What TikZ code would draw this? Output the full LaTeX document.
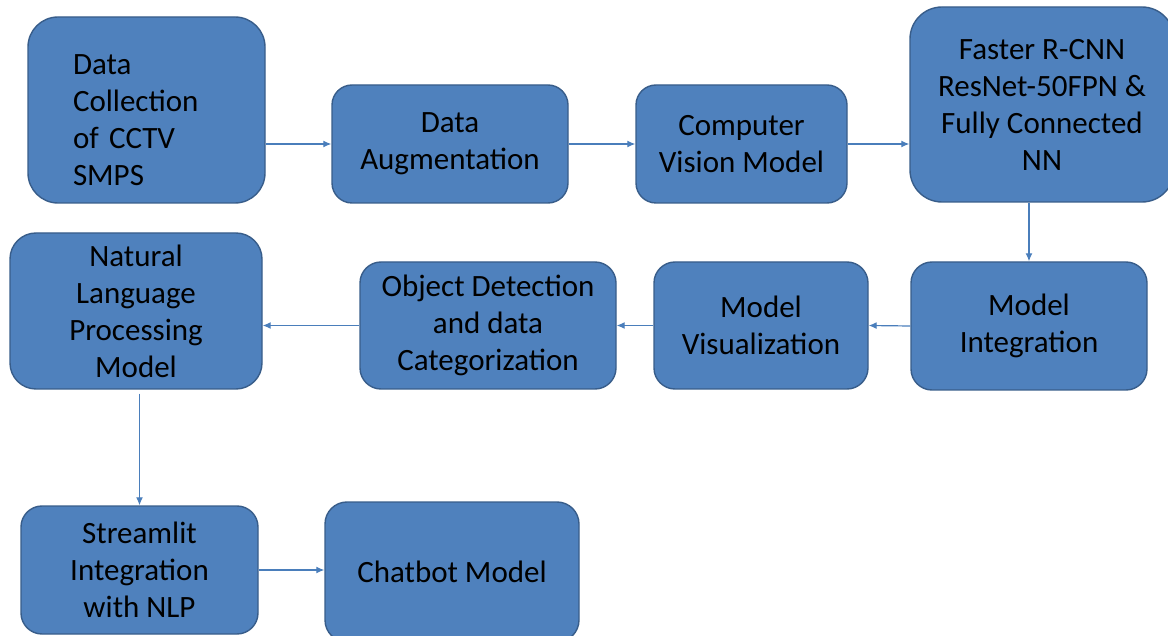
\documentclass[tikz,border=0pt]{standalone}
\usepackage{fontspec}
\setmainfont{Carlito}
\usetikzlibrary{arrows.meta}
\definecolor{boxfill}{HTML}{4F81BD}
\definecolor{boxline}{HTML}{385D8A}
\definecolor{arrowc}{HTML}{4A7EBB}
\tikzset{
  stepbox/.style={draw=boxline, line width=1.4pt, fill=boxfill, rectangle,
    align=center, inner sep=0pt, text=black,
    font=\fontsize{31}{37}\selectfont},
  flow/.style={draw=arrowc, line width=1.2pt, -{Latex[length=8pt,width=7pt]}}
}
\begin{document}
\begin{tikzpicture}[x=1pt,y=-1pt]
\useasboundingbox (0,0) rectangle (1168,636);
\clip (0,0) rectangle (1168,636);
\node[stepbox, rounded corners=30pt, minimum width=237pt, minimum height=186pt, text width=147pt, align=left] (b1) at (146.5,110) {\rule{0pt}{40pt}Data\\Collection\\of CCTV\\SMPS};
\node[stepbox, rounded corners=20pt, minimum width=236pt, minimum height=118pt] (b2) at (450,144) {Data\\Augmentation};
\node[stepbox, rounded corners=20pt, minimum width=211pt, minimum height=118pt] (b3) at (741.5,144) {Computer\\Vision Model};
\node[stepbox, rounded corners=32pt, minimum width=264pt, minimum height=195pt] (b4) at (1042,104.5) {Faster R-CNN\\ResNet-50FPN \&\\Fully Connected\\NN};
\node[stepbox, rounded corners=21pt, minimum width=236pt, minimum height=128pt] (b5) at (1029,326) {Model\\Integration};
\node[stepbox, rounded corners=21pt, minimum width=214pt, minimum height=127pt] (b6) at (761,325.5) {Model\\Visualization};
\node[stepbox, rounded corners=21pt, minimum width=256pt, minimum height=127pt] (b7) at (488,325.5) {Object Detection\\and data\\Categorization};
\node[stepbox, rounded corners=26pt, minimum width=252pt, minimum height=156pt] (b8) at (136,311) {Natural\\Language\\Processing\\Model};
\node[stepbox, rounded corners=21pt, minimum width=237pt, minimum height=128pt] (b9) at (139.5,570) {Streamlit\\Integration\\with NLP};
\node[stepbox, rounded corners=22pt, minimum width=254pt, minimum height=140pt] (b10) at (452,572) {Chatbot Model};
\draw[flow] (b1.east |- b2.west) -- (b2.west);
\draw[flow] (b2.east) -- (b3.west);
\draw[flow] (b3.east) -- (b3.east -| b4.west);
\draw[flow] (b4.south -| b5.north) -- (b5.north);
\draw[flow] (b5.west) -- (b6.east);
\draw[flow] (b6.west) -- (b7.east);
\draw[flow] (b7.west) -- (b7.west -| b8.east);
\draw[flow, shorten <=4pt] (b8.south -| b9.north) -- (b9.north);
\draw[flow] (b9.east) -- (b9.east -| b10.west);
\end{tikzpicture}
\end{document}
